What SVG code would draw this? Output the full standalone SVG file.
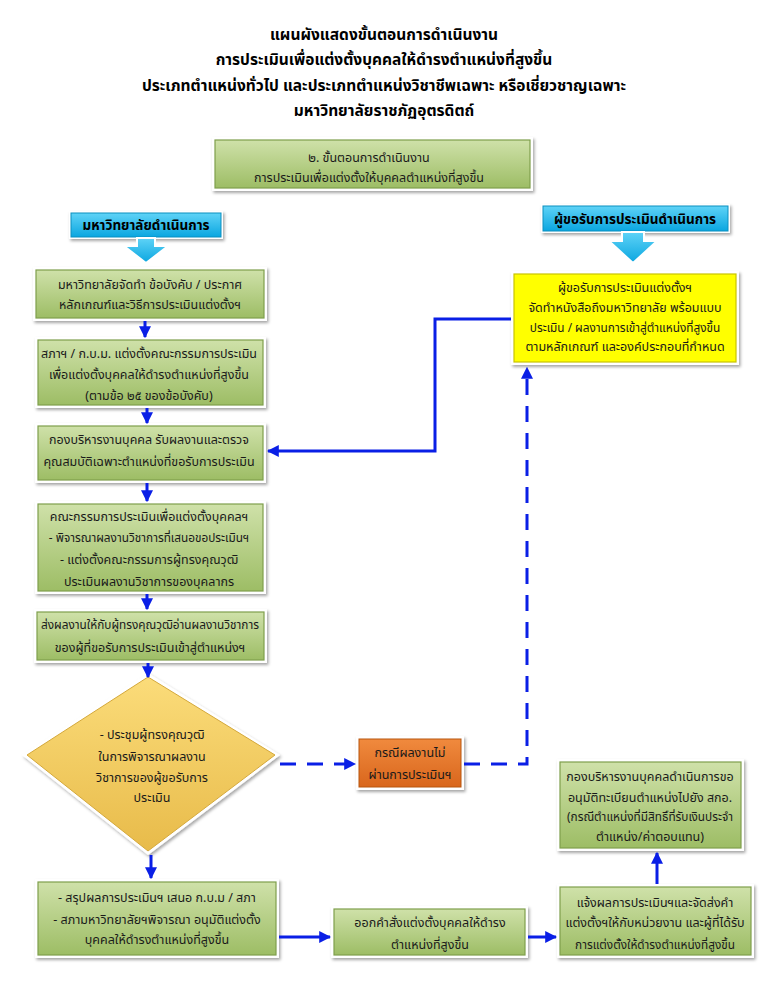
<svg xmlns="http://www.w3.org/2000/svg" width="768" height="994" viewBox="0 0 768 994">
<defs>
<linearGradient id="gGreen" x1="0" y1="0" x2="0" y2="1"><stop offset="0" stop-color="#cfe1a9"/><stop offset="1" stop-color="#9dbd65"/></linearGradient>
<linearGradient id="gCyan" x1="0" y1="0" x2="0" y2="1"><stop offset="0" stop-color="#5fd3f7"/><stop offset="1" stop-color="#0aa6e0"/></linearGradient>
<linearGradient id="gGold" x1="0" y1="0" x2="0" y2="1"><stop offset="0" stop-color="#fbdc7a"/><stop offset="1" stop-color="#e8bb4a"/></linearGradient>
<linearGradient id="gOrange" x1="0" y1="0" x2="0" y2="1"><stop offset="0" stop-color="#f08a3e"/><stop offset="1" stop-color="#d9661c"/></linearGradient>
<filter id="sh" x="-10%" y="-10%" width="120%" height="130%"><feDropShadow dx="1.5" dy="2" stdDeviation="1.5" flood-color="#000" flood-opacity="0.35"/></filter>
<marker id="ah" viewBox="0 0 10 10" refX="9" refY="5" markerWidth="4" markerHeight="4" orient="auto" markerUnits="strokeWidth"><path d="M0,0 L10,5 L0,10 z" fill="#0a1fe6"/></marker>
</defs>
<style>
.t{font-family:"Noto Sans Thai","Noto Sans","DejaVu Sans",sans-serif;fill:#1a1a1a;text-anchor:middle;}
.ttl{font-size:15.5px;font-weight:bold;fill:#000;}
.b{font-size:12.5px;}
.s{font-size:11.8px;}
.h{font-size:13.5px;font-weight:bold;fill:#000;}
.frame{fill:#fff;filter:url(#sh);}
.green{fill:url(#gGreen);stroke:#7f9f4c;stroke-width:1.2;}
.cyan{fill:url(#gCyan);stroke:#0b8fc0;stroke-width:1;}
.ln{fill:none;stroke:#0a1fe6;stroke-width:3;}
.dash{stroke-dasharray:16 11;}
</style>
<g id="title">
<text class="t ttl" x="384" y="40">แผนผังแสดงขั้นตอนการดำเนินงาน</text>
<text class="t ttl" x="384" y="65">การประเมินเพื่อแต่งตั้งบุคคลให้ดำรงตำแหน่งที่สูงขึ้น</text>
<text class="t ttl" x="384" y="91">ประเภทตำแหน่งทั่วไป และประเภทตำแหน่งวิชาชีพเฉพาะ หรือเชี่ยวชาญเฉพาะ</text>
<text class="t ttl" x="384" y="116">มหาวิทยาลัยราชภัฏอุตรดิตถ์</text>
</g>
<g id="topbox">
<rect class="frame" x="212" y="137" width="321" height="54"/>
<rect class="green" x="215" y="140" width="315" height="48"/>
<text class="t b" x="369" y="162">๒. ขั้นตอนการดำเนินงาน</text>
<text class="t b" x="369" y="182">การประเมินเพื่อแต่งตั้งให้บุคคลตำแหน่งที่สูงขึ้น</text>
</g>
<g id="hdrLeft">
<rect class="frame" x="69" y="211" width="154" height="28"/>
<rect class="cyan" x="71" y="213" width="150" height="24"/>
<path d="M137,238 H155 V246 H168 L146,263 L124,246 H137 Z" fill="url(#gCyan)" stroke="#fff" stroke-width="2"/>
<text class="t h" x="146" y="230">มหาวิทยาลัยดำเนินการ</text>
</g>
<g id="hdrRight">
<rect class="frame" x="541" y="204" width="189" height="29"/>
<rect class="cyan" x="543" y="206" width="185" height="25"/>
<path d="M622,232 H644 V241 H657 L633,263 L609,241 H622 Z" fill="url(#gCyan)" stroke="#fff" stroke-width="2"/>
<text class="t h" x="635" y="224">ผู้ขอรับการประเมินดำเนินการ</text>
</g>
<g id="box1">
<rect class="frame" x="33" y="267" width="234" height="54"/>
<rect class="green" x="36" y="270" width="228" height="48"/>
<text class="t b" x="150" y="289">มหาวิทยาลัยจัดทำ ข้อบังคับ / ประกาศ</text>
<text class="t b" x="150" y="309">หลักเกณฑ์และวิธีการประเมินแต่งตั้งฯ</text>
</g>
<g id="box2">
<rect class="frame" x="35" y="337" width="231" height="71"/>
<rect class="green" x="38" y="340" width="225" height="65"/>
<text class="t b" x="149" y="358">สภาฯ / ก.บ.ม. แต่งตั้งคณะกรรมการประเมิน</text>
<text class="t b" x="149" y="379">เพื่อแต่งตั้งบุคคลให้ดำรงตำแหน่งที่สูงขึ้น</text>
<text class="t b" x="149" y="400">(ตามข้อ ๒๕ ของข้อบังคับ)</text>
</g>
<g id="box3">
<rect class="frame" x="35" y="423" width="231" height="60"/>
<rect class="green" x="38" y="426" width="225" height="54"/>
<text class="t b" x="149" y="444">กองบริหารงานบุคคล รับผลงานและตรวจ</text>
<text class="t b" x="149" y="466">คุณสมบัติเฉพาะตำแหน่งที่ขอรับการประเมิน</text>
</g>
<g id="box4">
<rect class="frame" x="35" y="501" width="231" height="93"/>
<rect class="green" x="38" y="504" width="225" height="87"/>
<text class="t b" x="149" y="521">คณะกรรมการประเมินเพื่อแต่งตั้งบุคคลฯ</text>
<text class="t s" x="149" y="542">- พิจารณาผลงานวิชาการที่เสนอขอประเมินฯ</text>
<text class="t b" x="149" y="564">- แต่งตั้งคณะกรรมการผู้ทรงคุณวุฒิ</text>
<text class="t b" x="149" y="586">ประเมินผลงานวิชาการของบุคลากร</text>
</g>
<g id="box5">
<rect class="frame" x="34" y="609" width="233" height="54"/>
<rect class="green" x="37" y="612" width="227" height="48"/>
<text class="t s" x="150" y="629">ส่งผลงานให้กับผู้ทรงคุณวุฒิอ่านผลงานวิชาการ</text>
<text class="t b" x="150" y="652">ของผู้ที่ขอรับการประเมินเข้าสู่ตำแหน่งฯ</text>
</g>
<g id="diamond">
<polygon points="148,673 280,755 148,855 22,755" fill="#fff" filter="url(#sh)"/>
<polygon points="148,677 275,755 148,851 27,755" fill="url(#gGold)" stroke="#d4a83a" stroke-width="1"/>
<text class="t b" x="152" y="739">- ประชุมผู้ทรงคุณวุฒิ</text>
<text class="t b" x="152" y="761">ในการพิจารณาผลงาน</text>
<text class="t b" x="152" y="782">วิชาการของผู้ขอรับการ</text>
<text class="t b" x="152" y="802">ประเมิน</text>
</g>
<g id="orange">
<rect class="frame" x="356" y="736" width="108" height="54"/>
<rect x="359" y="739" width="102" height="48" fill="url(#gOrange)" stroke="#b8560f" stroke-width="1"/>
<text class="t b" x="410" y="757">กรณีผลงานไม่</text>
<text class="t b" x="410" y="779">ผ่านการประเมินฯ</text>
</g>
<g id="yellow">
<rect class="frame" x="511" y="271" width="228" height="94"/>
<rect x="514" y="274" width="222" height="88" fill="#ffff00" stroke="#c9c400" stroke-width="1.2"/>
<text class="t b" x="625" y="292">ผู้ขอรับการประเมินแต่งตั้งฯ</text>
<text class="t b" x="625" y="312">จัดทำหนังสือถึงมหาวิทยาลัย พร้อมแบบ</text>
<text class="t s" x="625" y="332">ประเมิน / ผลงานการเข้าสู่ตำแหน่งที่สูงขึ้น</text>
<text class="t b" x="625" y="351">ตามหลักเกณฑ์ และองค์ประกอบที่กำหนด</text>
</g>
<g id="box6">
<rect class="frame" x="35" y="879" width="244" height="79"/>
<rect class="green" x="38" y="882" width="238" height="73"/>
<text class="t b" x="157" y="902">- สรุปผลการประเมินฯ เสนอ ก.บ.ม / สภา</text>
<text class="t b" x="157" y="924">- สภามหาวิทยาลัยฯพิจารณา อนุมัติแต่งตั้ง</text>
<text class="t b" x="157" y="944">บุคคลให้ดำรงตำแหน่งที่สูงขึ้น</text>
</g>
<g id="box7">
<rect class="frame" x="331" y="906" width="197" height="52"/>
<rect class="green" x="334" y="909" width="191" height="46"/>
<text class="t b" x="430" y="927">ออกคำสั่งแต่งตั้งบุคคลให้ดำรง</text>
<text class="t b" x="430" y="949">ตำแหน่งที่สูงขึ้น</text>
</g>
<g id="box8">
<rect class="frame" x="557" y="884" width="197" height="74"/>
<rect class="green" x="560" y="887" width="191" height="68"/>
<text class="t b" x="655" y="907">แจ้งผลการประเมินฯและจัดส่งคำ</text>
<text class="t b" x="655" y="927">แต่งตั้งฯให้กับหน่วยงาน และผู้ที่ได้รับ</text>
<text class="t s" x="655" y="949">การแต่งตั้งให้ดำรงตำแหน่งที่สูงขึ้น</text>
</g>
<g id="box9">
<rect class="frame" x="557" y="759" width="187" height="92"/>
<rect class="green" x="560" y="762" width="181" height="86"/>
<text class="t b" x="650" y="781">กองบริหารงานบุคคลดำเนินการขอ</text>
<text class="t b" x="650" y="802">อนุมัติทะเบียนตำแหน่งไปยัง สกอ.</text>
<text class="t s" x="650" y="821">(กรณีตำแหน่งที่มีสิทธิ์ที่รับเงินประจำ</text>
<text class="t b" x="650" y="841">ตำแหน่ง/ค่าตอบแทน)</text>
</g>
<g id="connectors">
<line class="ln" x1="145" y1="321" x2="145" y2="337" marker-end="url(#ah)"/>
<line class="ln" x1="147" y1="408" x2="147" y2="423" marker-end="url(#ah)"/>
<line class="ln" x1="147" y1="483" x2="147" y2="501" marker-end="url(#ah)"/>
<line class="ln" x1="147" y1="594" x2="147" y2="609" marker-end="url(#ah)"/>
<line class="ln" x1="148" y1="663" x2="148" y2="677" marker-end="url(#ah)"/>
<line class="ln" x1="151" y1="855" x2="151" y2="878" marker-end="url(#ah)"/>
<polyline class="ln" points="511,319 435,319 435,451 268,451" marker-end="url(#ah)"/>
<polyline class="ln dash" points="280,764 355,764" marker-end="url(#ah)"/>
<polyline class="ln dash" points="464,764 527,764 527,368" marker-end="url(#ah)"/>
<line class="ln" x1="279" y1="937" x2="330" y2="937" marker-end="url(#ah)"/>
<line class="ln" x1="528" y1="937" x2="556" y2="937" marker-end="url(#ah)"/>
<line class="ln" x1="657" y1="884" x2="657" y2="853" marker-end="url(#ah)"/>
</g>
</svg>
